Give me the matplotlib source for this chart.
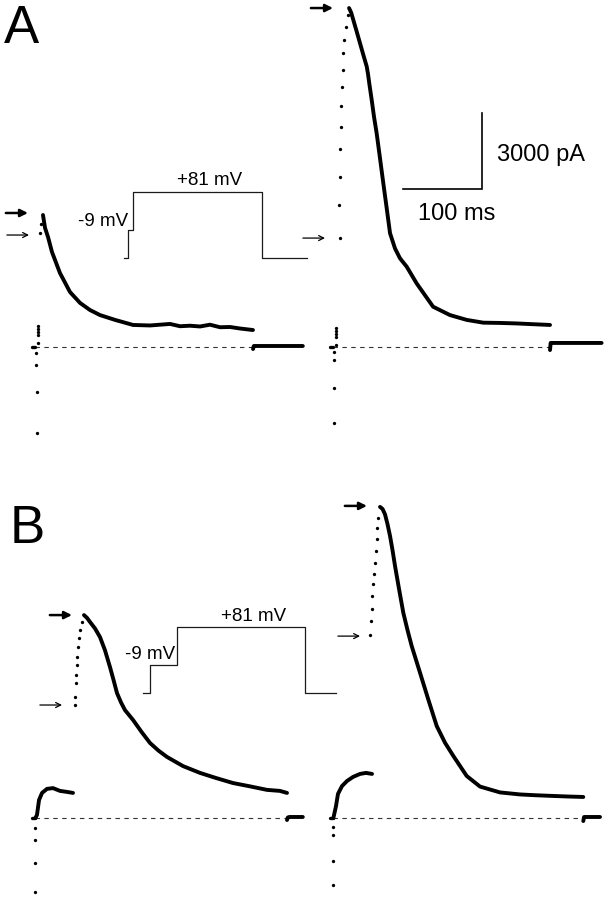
import matplotlib
matplotlib.use("Agg")
import matplotlib.pyplot as plt
import numpy as np

plt.rcParams['font.family'] = ['Liberation Sans', 'DejaVu Sans']

# ---------------- data (time in ms from pulse onset, current in pA) ----------------
# Panel A, left sweep
a1_dot_t = [1.5, 1.5, 2.0, 2.0, 4.0, 4.0, 4.0, 4.0, 4.4, 6.3, 7.6]
a1_dot_i = [-240, -710, -1780, -3390, 830, 710, 590, 470, 160, 4500, 4860]
a1_t = [10.1, 12.7, 16.5, 21.5, 31.6, 44.3, 57.0, 69.6, 82.3, 101.3, 124.1, 145.6,
        158.2, 170.9, 183.5, 196.2, 208.9, 221.5, 234.2, 246.8, 259.5, 275.9]
a1_i = [5210, 4700, 4340, 3750, 2920, 2170, 1740, 1460, 1260, 1070, 870, 850,
        880, 910, 820, 840, 810, 880, 780, 790, 730, 670]
a1_tail_t = [276, 277, 280, 339]
a1_tail_i = [-80, 40, 40, 40]

# Panel A, right sweep
a2_dot_t = [1.3, 1.3, 1.3, 1.3, 3.8, 3.8, 3.8, 3.8, 3.8,
            8.9, 7.6, 8.9, 8.9, 10.1, 10.1, 11.4, 12.7, 12.7, 13.9, 16.5, 19.0]
a2_dot_i = [-200, -510, -1620, -3000, 750, 630, 510, 400, 80,
            4300, 5600, 6710, 7820, 8680, 9510, 10260, 10930, 11600, 12120, 12630, 13100]
a2_t = [20.3, 23.0, 25.7, 30.0, 34.2, 38.4, 42.7, 44.3, 45.9, 49.0, 51.9, 55.3, 59.5,
        63.7, 68.0, 72.2, 78.5, 84.8, 93.3, 105.9, 126.7, 148.1, 169.2, 190.3,
        211.4, 232.5, 253.2, 274.7]
a2_i = [13380, 13200, 12910, 12450, 11990, 11530, 11070, 10780, 10410, 9750, 9090,
        8430, 7450, 6460, 5470, 4490, 3890, 3500, 3170, 2510, 1590, 1260, 1070, 960,
        950, 930, 900, 870]
a2_tail_t = [274.7, 275.5, 278, 340]
a2_tail_i = [-120, 160, 160, 160]

# Panel B, left sweep
b1_dot_t = [0.5, 0.5, 0.5, 0.5,
            50.6, 50.6, 51.9, 51.9, 53.2, 53.2, 54.4, 55.7, 57.0, 59.5]
b1_dot_i = [-395, -870, -1780, -2920,
            4460, 4780, 5330, 5650, 6040, 6360, 6750, 7110, 7420, 7740]
b1_pre_t = [0.5, 2.5, 5.1, 8.9, 15.2, 22.8, 31.6, 40.5, 48.1]
b1_pre_i = [0, 120, 710, 990, 1150, 1180, 1070, 1030, 990]
b1_t = [62.0, 65.8, 69.6, 76.0, 82.3, 88.6, 94.9, 99.4, 103.8, 108.9, 113.9, 124.1,
        134.8, 145.6, 156.3, 167.1, 187.3, 208.9, 229.0, 250.6, 272.0, 293.7,
        310.0, 319.0]
b1_i = [8010, 7900, 7740, 7480, 7140, 6620, 5960, 5450, 4930, 4560, 4260, 3870,
        3400, 2960, 2660, 2410, 2050, 1780, 1580, 1380, 1250, 1110, 1070, 990]
b1_tail_t = [319, 320, 322, 339]
b1_tail_i = [-80, 20, 40, 40]

# Panel B, right sweep
b2_dot_t = [0.5, 0.5, 0.5, 0.5,
            46.8, 48.1, 49.4, 49.4, 50.6, 51.9, 53.2, 54.4, 55.7, 55.7, 57.0]
b2_dot_i = [-355, -670, -1690, -2640,
            7220, 7780, 8250, 8760, 9240, 9630, 10070, 10540, 11010, 11450, 11840]
b2_pre_t = [0.5, 3.8, 6.3, 11.4, 17.7, 25.3, 34.2, 41.8, 49.4]
b2_pre_i = [0, 470, 950, 1260, 1460, 1620, 1740, 1780, 1740]
b2_t = [59.5, 62.7, 65.8, 69.0, 72.2, 75.3, 78.5, 83.7, 89.0, 94.3, 99.6, 110.1,
        120.6, 131.3, 141.8, 152.3, 169.2, 186.1, 211.4, 236.7, 255.0, 278.9, 296.0,
        316.8]
b2_i = [12280, 12200, 11990, 11600, 11130, 10580, 9950, 9020, 8100, 7420, 6790,
        5740, 4680, 3630, 2970, 2450, 1660, 1240, 1010, 930, 900, 870, 850, 830]
b2_tail_t = [316.8, 317.8, 320, 338]
b2_tail_i = [-120, 40, 40, 40]

# arrow marks: (tip time, current level)
a1_arrows = [(-8.9, 5290, 'thick'), (-7.6, 4420, 'thin')]
a2_arrows = [(0.0, 13380, 'thick'), (-10.1, 4300, 'thin')]
b1_arrows = [(46.8, 8010, 'thick'), (34.2, 4460, 'thin')]
b2_arrows = [(43.0, 12320, 'thick'), (34.2, 7180, 'thin')]

# voltage protocols: event times (ms) start, prepulse on, test on, test off, end
protoA_t = [0, 5.1, 11.4, 174.7, 231.6]
protoB_t = [0, 8.9, 43.0, 205.1, 244.3]
V_hold, V_pre, V_test = -75, -9, 81

# scale bar
bar_ms, bar_pA = 100, 3000
bar_corner = (566, 6240)

# ---------------- layout ----------------
W, H = 612, 900
PX_MS = 0.79            # pixels per ms
PX_PA = 76 / 3000       # pixels per pA
PX_MV = 0.42            # pixels per mV (protocol)
X0 = 35                 # pixel of t = 0 for left sweeps
SWEEP2 = 298 / PX_MS    # time offset of the right sweep

fig = plt.figure(figsize=(W / 100, H / 100), dpi=100)
fig.patch.set_facecolor('white')


def px_axes(left, top, width, height):
    return fig.add_axes([left / W, 1 - (top + height) / H, width / W, height / H])


def panel(top, bottom, base):
    ax = px_axes(0, top, W, bottom - top)
    ax.set_xlim(-X0 / PX_MS, (W - X0) / PX_MS)
    ax.set_ylim(-(bottom - base) / PX_PA, (base - top) / PX_PA)
    ax.axis('off')
    return ax


def draw_sweep(ax, off, dot_t, dot_i, t, i, tail_t, tail_i, arrows, pre_t=None, pre_i=None):
    k = dict(color='black', solid_capstyle='round', solid_joinstyle='round')
    off_arr = lambda a: np.asarray(a) + off
    ax.plot(off_arr([0, t[-1]]), [0, 0], color='#333333', lw=0.8,
            linestyle=(0, (4, 4)))
    ax.plot(off_arr([-4, 0.5]), [0, 0], lw=2.4, **k)
    ax.plot(off_arr(dot_t), dot_i, 'o', color='black', ms=2.4, mew=0)
    if pre_t is not None:
        ax.plot(off_arr(pre_t), pre_i, lw=2.8, **k)
    ax.plot(off_arr(t), i, lw=2.8, **k)
    ax.plot(off_arr(tail_t), tail_i, lw=2.8, **k)
    for tip, lev, kind in arrows:
        if kind == 'thick':
            props = dict(arrowstyle='-|>', lw=1.8, color='black', mutation_scale=11,
                         shrinkA=0, shrinkB=0)
        else:
            props = dict(arrowstyle='->', lw=0.9, color='black', mutation_scale=9,
                         shrinkA=0, shrinkB=0)
        ax.annotate('', xy=(tip + off, lev), xytext=(tip + off - 28, lev),
                    arrowprops=props)


def draw_protocol(left, top, pt, pre_off, test_off):
    span = pt[-1]
    h = (V_test - V_hold) * PX_MV
    ax = px_axes(left, top, span * PX_MS, h)
    ax.set_xlim(0, span)
    ax.set_ylim(V_hold, V_test)
    ax.axis('off')
    t0, t1, t2, t3, t4 = pt
    ax.plot([t0, t1, t1, t2, t2, t3, t3, t4],
            [V_hold, V_hold, V_pre, V_pre, V_test, V_test, V_hold, V_hold],
            color='#1a1a1a', lw=0.9, clip_on=False)
    ax.annotate('-9 mV', xy=(t2, V_pre), xytext=pre_off, textcoords='offset points',
                ha='right', va='baseline', fontsize=13.5)
    ax.annotate('+81 mV', xy=((t2 + t3) / 2, V_test), xytext=test_off,
                textcoords='offset points', ha='center', va='baseline', fontsize=13.5)


# Panel A
axA = panel(0, 450, 347)
draw_sweep(axA, 0, a1_dot_t, a1_dot_i, a1_t, a1_i, a1_tail_t, a1_tail_i, a1_arrows)
draw_sweep(axA, SWEEP2, a2_dot_t, a2_dot_i, a2_t, a2_i, a2_tail_t, a2_tail_i, a2_arrows)

cx, cy = bar_corner
axA.plot([cx - bar_ms, cx, cx], [cy, cy, cy + bar_pA], color='black', lw=1.2,
         solid_joinstyle='miter')
axA.annotate('3000 pA', xy=(cx, cy + bar_pA / 2), xytext=(11, -7),
             textcoords='offset points', ha='left', va='baseline', fontsize=17)
axA.annotate('100 ms', xy=(cx - bar_ms / 2, cy), xytext=(10, -22.5),
             textcoords='offset points', ha='center', va='baseline', fontsize=17)

# Panel B
axB = panel(450, 900, 818)
draw_sweep(axB, 0, b1_dot_t, b1_dot_i, b1_t, b1_i, b1_tail_t, b1_tail_i, b1_arrows,
           b1_pre_t, b1_pre_i)
draw_sweep(axB, SWEEP2, b2_dot_t, b2_dot_i, b2_t, b2_i, b2_tail_t, b2_tail_i, b2_arrows,
           b2_pre_t, b2_pre_i)

# protocols
draw_protocol(124, 192, protoA_t, (-3.5, 3), (9, 5))
draw_protocol(143, 627, protoB_t, (-1.5, 4.5), (9, 4))

# panel letters
fig.text(4 / W, 1 - 43 / H, 'A', fontsize=38, ha='left', va='baseline')
fig.text(10 / W, 1 - 543 / H, 'B', fontsize=38, ha='left', va='baseline')

fig.savefig('out.png', dpi=100, facecolor='white')
